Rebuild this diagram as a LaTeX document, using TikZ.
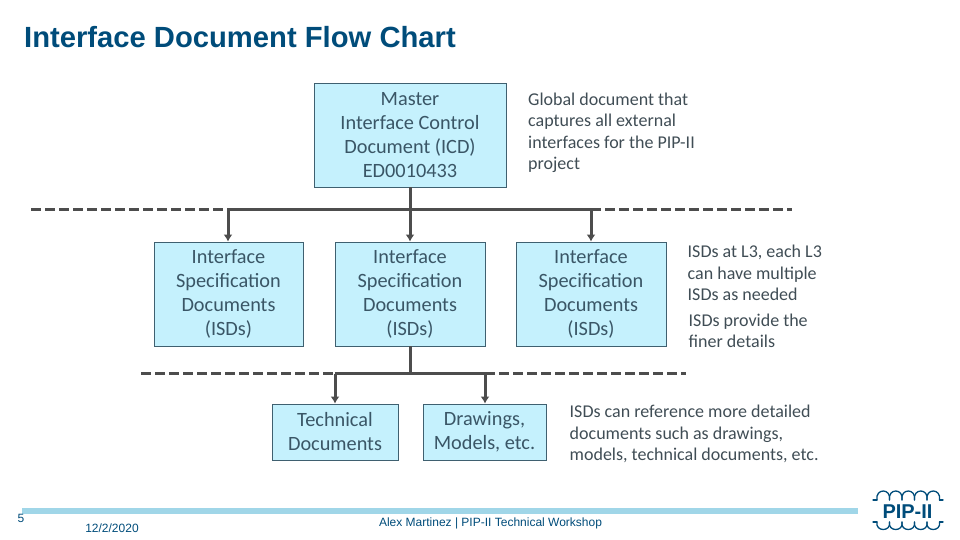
\documentclass[tikz,border=0pt]{standalone}
\usepackage{xcolor}
\usepackage{fontspec}
\setmainfont{Carlito}
\newfontfamily\arialfont{Liberation Sans}
\usetikzlibrary{arrows.meta}
\definecolor{boxfill}{HTML}{C5F1FD}
\definecolor{boxline}{HTML}{3F6070}
\definecolor{boxtext}{HTML}{3A5666}
\definecolor{linegray}{HTML}{4D4D4D}
\definecolor{notegray}{HTML}{404D55}
\definecolor{titleblue}{HTML}{004C7A}
\definecolor{barblue}{HTML}{A0D6E8}
\tikzset{
    docbox/.style={draw=boxline, line width=0.9pt, fill=boxfill, text=boxtext, align=center,
        font=\fontsize{20.3}{24}\selectfont, inner sep=0pt},
    note/.style={anchor=north west, align=left, text=notegray, inner sep=0pt,
        font=\fontsize{18}{21.6}\selectfont},
    feed/.style={draw=linegray, line width=3pt, -{Latex[length=7pt,width=9pt]}},
    stem/.style={draw=linegray, line width=3pt},
    bus/.style={draw=linegray, line width=3pt},
    busdash/.style={draw=linegray, line width=3pt, dash pattern=on 10pt off 4pt},
    wave/.style={draw=titleblue, line width=1.3pt, line cap=round},
}

\begin{document}
\begin{tikzpicture}[x=1pt,y=-1pt]
    \useasboundingbox (0,0) rectangle (960,540);

    % title
    \node[anchor=west, inner sep=0pt, text=titleblue, font=\arialfont\bfseries\fontsize{29.2}{32}\selectfont] (title) at (24,37) {Interface Document Flow Chart};

    % boxes
    \node[docbox, minimum width=192pt, minimum height=104pt] (master) at (410,135) {Master\\Interface Control\\Document (ICD)\\ED0010433};
    \node[docbox, minimum width=149pt, minimum height=104pt] (isdleft) at (228.5,294) {Interface\\Specification\\Documents\\(ISDs)};
    \node[docbox, minimum width=150pt, minimum height=104pt] (isdmid) at (410,294) {Interface\\Specification\\Documents\\(ISDs)};
    \node[docbox, minimum width=150pt, minimum height=104pt] (isdright) at (591,294) {Interface\\Specification\\Documents\\(ISDs)};
    \node[docbox, minimum width=126pt, minimum height=56pt] (techdocs) at (335,432) {Technical\\Documents};
    \node[docbox, minimum width=123pt, minimum height=56pt] (drawings) at (484.5,432) {Drawings,\\Models, etc.};

    % bus lines
    \coordinate (bustop) at (410,209);
    \coordinate (busleft) at (228,209);
    \coordinate (busright) at (591,209);
    \coordinate (dashleft) at (31,209);
    \coordinate (dashright) at (792,209);
    \coordinate (lowbus) at (410,373.5);
    \coordinate (lowleft) at (335,373.5);
    \coordinate (lowright) at (485,373.5);
    \coordinate (lowdashleft) at (141,373.5);
    \coordinate (lowdashright) at (686,373.5);

    \draw[busdash] (dashleft) -- (busleft);
    \draw[busdash] (busright) -- (dashright);
    \draw[bus] (busleft) -- (busright);
    \draw[busdash] (lowdashleft) -- (lowleft);
    \draw[busdash] (lowright) -- (lowdashright);
    \draw[bus] (lowleft) -- (lowright);

    % arrows
    \draw[stem] (master.south) -- (bustop);
    \draw[feed] (bustop) -- (isdmid.north);
    \draw[feed] (busleft) -- (busleft |- isdleft.north);
    \draw[feed] (busright) -- (busright |- isdright.north);
    \draw[stem] (isdmid.south) -- (lowbus);
    \draw[feed] (lowleft) -- (lowleft |- techdocs.north);
    \draw[feed] (lowright) -- (lowright |- drawings.north);

    % side notes
    \node[note] (noteglobal) at (528,92.5) {Global document that\\captures all external\\interfaces for the PIP-II\\project};
    \node[note] (notelevel) at (687.5,245) {ISDs at L3, each L3\\can have multiple\\ISDs as needed};
    \node[note] (notefiner) at (688.5,313.5) {ISDs provide the\\finer details};
    \node[note] (notemore) at (569.5,405) {ISDs can reference more detailed\\documents such as drawings,\\models, technical documents, etc.};

    % footer
    \fill[barblue] (22,507.5) rectangle (858,513.5);
    \node[inner sep=0pt, text=titleblue, font=\arialfont\fontsize{12}{14}\selectfont] (pagenum) at (21,518) {5};
    \node[inner sep=0pt, text=titleblue, font=\arialfont\fontsize{12}{14}\selectfont] (datenode) at (112,528.5) {12/2/2020};
    \node[inner sep=0pt, text=titleblue, font=\arialfont\fontsize{12}{14}\selectfont] (author) at (490.5,523.5) {Alex Martinez | PIP-II Technical Workshop};

    % logo
    \node[inner sep=0pt, text=titleblue, font=\arialfont\bfseries\fontsize{20}{21}\selectfont] (logo) at (907.5,511.5) {PIP-II};
    \foreach \i in {0,...,4} {
        \draw[wave] (877+12.5*\i,500) .. controls (875+12.5*\i,488) and (891.5+12.5*\i,488) .. (889.5+12.5*\i,500);
        \draw[wave] (877+12.5*\i,522) .. controls (875+12.5*\i,532) and (891.5+12.5*\i,532) .. (889.5+12.5*\i,522);
    }
    \draw[wave] (873,500) -- (877,500);
    \draw[wave] (939.5,500) -- (943,500);
    \draw[wave] (873,522) -- (877,522);
    \draw[wave] (939.5,522) -- (943,522);

\end{tikzpicture}
\end{document}
